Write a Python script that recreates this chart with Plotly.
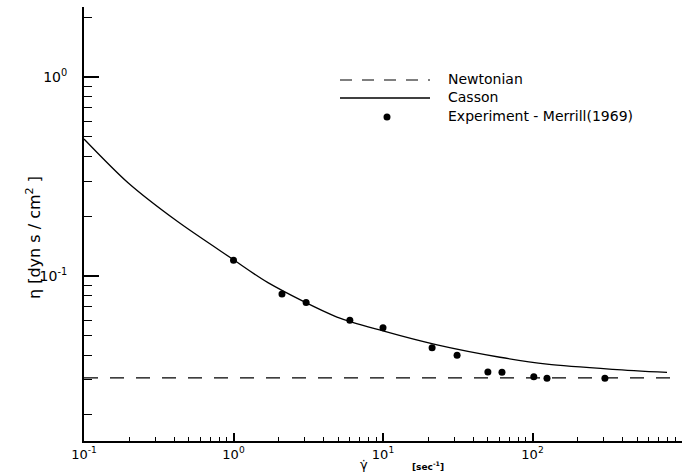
import plotly.graph_objects as go

# ---- data ----
newt_gamma = [0.1, 1000]
newt_eta = [0.0307, 0.0307]

casson_gamma = [0.1, 0.197, 0.425, 0.962, 1.70, 4.92, 10, 23, 60.6, 125, 345, 794]
casson_eta = [0.488, 0.294, 0.187, 0.123, 0.0925, 0.0621, 0.0529, 0.0450, 0.0390, 0.0360, 0.0339, 0.0327]

exp_gamma = [1.0, 2.11, 3.06, 6.0, 10.0, 21.3, 31.3, 50.3, 62.5, 102, 125, 305]
exp_eta = [0.120, 0.0812, 0.0736, 0.0599, 0.0548, 0.0435, 0.0399, 0.0329, 0.0328, 0.0311, 0.0306, 0.0306]

x_major = [0.1, 1, 10, 100, 1000]
x_major_text = ["10<sup>-1</sup>", "10<sup>0</sup>", "10<sup>1</sup>", "10<sup>2</sup>", "10<sup>3</sup>"]
y_major = [0.1, 1]
y_major_text = ["10<sup>-1</sup>", "10<sup>0</sup>"]
x_minor = [m * 10 ** k for k in (-1, 0, 1, 2) for m in range(2, 10)]
y_minor = [m * 0.01 for m in range(2, 10)] + [m * 0.1 for m in range(2, 10)] + [2]

legend_labels = ["Newtonian", "Casson", "Experiment - Merrill(1969)"]

FONT = "DejaVu Sans"

fig = go.Figure()
fig.add_trace(go.Scatter(x=newt_gamma, y=newt_eta, mode="lines", name=legend_labels[0],
                         line=dict(color="black", width=1.2, dash="14px,12px")))
fig.add_trace(go.Scatter(x=casson_gamma, y=casson_eta, mode="lines", name=legend_labels[1],
                         line=dict(color="black", width=1.3, shape="spline", smoothing=0.8)))
fig.add_trace(go.Scatter(x=exp_gamma, y=exp_eta, mode="markers", name=legend_labels[2],
                         marker=dict(color="black", size=7)))

L, R, T, B = 84, 11, 7, 33
W, H = 693, 474
pw, ph = W - L - R, H - T - B

def px(x):
    return (x - L) / pw

def py(y):
    return (H - B - y) / ph

# manual legend
shapes = [
    dict(type="line", xref="paper", yref="paper", x0=px(340), x1=px(430), y0=py(80), y1=py(80),
         line=dict(color="black", width=1.2, dash="12px,10px")),
    dict(type="line", xref="paper", yref="paper", x0=px(340), x1=px(430), y0=py(98), y1=py(98),
         line=dict(color="black", width=1.3)),
    dict(type="circle", xref="paper", yref="paper", xsizemode="pixel", ysizemode="pixel",
         xanchor=px(387), yanchor=py(117), x0=-3.5, x1=3.5, y0=-3.5, y1=3.5,
         fillcolor="black", line=dict(color="black", width=0)),
]
annotations = []
for lab, yy in zip(legend_labels, [79, 97, 116]):
    annotations.append(dict(text=lab, xref="paper", yref="paper", x=px(446), y=py(yy),
                            xanchor="left", yanchor="middle", showarrow=False,
                            font=dict(family=FONT, size=14, color="black")))
# axis titles
annotations.append(dict(text="η [dyn s / cm<sup>2</sup> ]", xref="paper", yref="paper",
                        x=px(33), y=py(238), textangle=-90, showarrow=False,
                        xanchor="center", yanchor="middle",
                        font=dict(family=FONT, size=16, color="black")))
annotations.append(dict(text="γ̇", xref="paper", yref="paper", x=px(364), y=py(474),
                        showarrow=False, xanchor="center", yanchor="bottom",
                        font=dict(family=FONT, size=13, color="black")))
annotations.append(dict(text="<b>[sec<sup>-1</sup>]</b>", xref="paper", yref="paper", x=px(428), y=py(466),
                        showarrow=False, xanchor="center", yanchor="middle",
                        font=dict(family=FONT, size=9, color="black")))

fig.update_layout(
    width=W, height=H,
    margin=dict(l=L, r=R, t=T, b=B, pad=0),
    paper_bgcolor="white", plot_bgcolor="white",
    showlegend=False,
    shapes=shapes, annotations=annotations,
    font=dict(family=FONT, size=14, color="black"),
)
fig.update_xaxes(type="log", range=[-1, 3], showgrid=False, zeroline=False,
                 showline=True, linecolor="black", linewidth=2, mirror=False,
                 tickmode="array", tickvals=x_major, ticktext=x_major_text,
                 ticks="inside", ticklen=8, tickwidth=1.5, tickcolor="black",
                 minor=dict(tickmode="array", tickvals=x_minor, ticks="inside", ticklen=4,
                            tickwidth=1, tickcolor="black", showgrid=False),
                 tickfont=dict(family=FONT, size=13, color="black"), automargin=False)
fig.update_yaxes(type="log", range=[-1.83, 0.352], showgrid=False, zeroline=False,
                 showline=True, linecolor="black", linewidth=2, mirror=False,
                 tickmode="array", tickvals=y_major, ticktext=y_major_text,
                 ticks="inside", ticklen=15, tickwidth=1.5, tickcolor="black",
                 minor=dict(tickmode="array", tickvals=y_minor, ticks="inside", ticklen=8,
                            tickwidth=1, tickcolor="black", showgrid=False),
                 ticklabelstandoff=12,
                 tickfont=dict(family=FONT, size=14, color="black"), automargin=False)

fig.write_html("out.html")
